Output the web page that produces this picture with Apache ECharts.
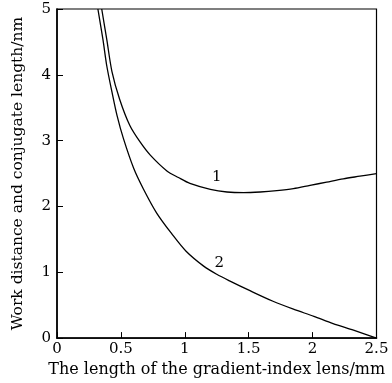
<!DOCTYPE html>
<html><head><meta charset="utf-8">
<script src="https://cdn.jsdelivr.net/npm/echarts@6/dist/echarts.min.js"></script>
<style>html,body{margin:0;padding:0;background:#fff}#c{width:392px;height:383px}</style>
</head><body><div id="c"></div>
<script>
const xTicks = [0, 0.5, 1, 1.5, 2, 2.5];
const yTicks = [0, 1, 2, 3, 4, 5];
const curve1X = [0.35, 0.39, 0.43, 0.49, 0.57, 0.65, 0.73, 0.86, 0.95, 1.04, 1.2, 1.33, 1.46, 1.59, 1.72, 1.85, 1.98, 2.11, 2.24, 2.37, 2.5];
const curve1Y = [5.0, 4.53, 4.05, 3.63, 3.23, 2.98, 2.78, 2.54, 2.44, 2.35, 2.26, 2.22, 2.21, 2.22, 2.24, 2.27, 2.32, 2.37, 2.42, 2.46, 2.5];
const curve2X = [0.32, 0.36, 0.39, 0.43, 0.47, 0.52, 0.6, 0.675, 0.78, 0.9, 1.01, 1.15, 1.25, 1.35, 1.51, 1.69, 1.85, 2.01, 2.16, 2.32, 2.5];
const curve2Y = [5.0, 4.53, 4.13, 3.74, 3.38, 3.03, 2.58, 2.27, 1.9, 1.58, 1.32, 1.09, 0.97, 0.87, 0.72, 0.56, 0.44, 0.33, 0.22, 0.12, 0.0];
const curveLabels = ["1", "2"];
const labelAt = [[1.25, 2.45], [1.27, 1.14]];

const font = "DejaVu Serif";
const chart = echarts.init(document.getElementById('c'));
const mk = (xs, ys) => xs.map((x, i) => [x, ys[i]]);
chart.setOption({
  animation: false,
  grid: {left: 57, right: 15.5, top: 9, bottom: 42, show: true, borderColor: '#000', borderWidth: 1.2, backgroundColor: 'transparent'},
  xAxis: {
    type: 'value', min: xTicks[0], max: xTicks[xTicks.length-1], interval: 0.5,
    name: 'The length of the gradient-index lens/mm', nameLocation: 'middle', nameGap: 23,
    nameTextStyle: {fontFamily: font, fontSize: 16, color: '#000'},
    axisLine: {show: true, onZero: false, lineStyle: {color: '#000', width: 1.6}},
    axisTick: {show: true, inside: true, length: 6, lineStyle: {color: '#000'}},
    axisLabel: {fontFamily: font, fontSize: 15, color: '#000', margin: 4, formatter: v => String(v)},
    splitLine: {show: false}
  },
  yAxis: {
    type: 'value', min: yTicks[0], max: yTicks[yTicks.length-1], interval: 1,
    name: 'Work distance and conjugate length/nm', nameLocation: 'middle', nameGap: 31,
    nameTextStyle: {fontFamily: font, fontSize: 15.5, color: '#000'},
    axisLine: {show: true, lineStyle: {color: '#000', width: 1.6}},
    axisTick: {show: true, inside: true, length: 6, lineStyle: {color: '#000'}},
    axisLabel: {fontFamily: font, fontSize: 15, color: '#000', margin: 6},
    splitLine: {show: false}
  },
  series: [
    {type: 'line', data: mk(curve1X, curve1Y), smooth: 0.3, symbol: 'none', lineStyle: {color: '#000', width: 1.3},
     markPoint: {symbol: 'circle', symbolSize: 0, data: [{coord: labelAt[0], label: {show: true, formatter: curveLabels[0], fontFamily: font, fontSize: 15, color: '#000', position: 'inside'}}]}},
    {type: 'line', data: mk(curve2X, curve2Y), smooth: 0.3, symbol: 'none', lineStyle: {color: '#000', width: 1.3},
     markPoint: {symbol: 'circle', symbolSize: 0, data: [{coord: labelAt[1], label: {show: true, formatter: curveLabels[1], fontFamily: font, fontSize: 15, color: '#000', position: 'inside'}}]}}
  ]
});
</script></body></html>
